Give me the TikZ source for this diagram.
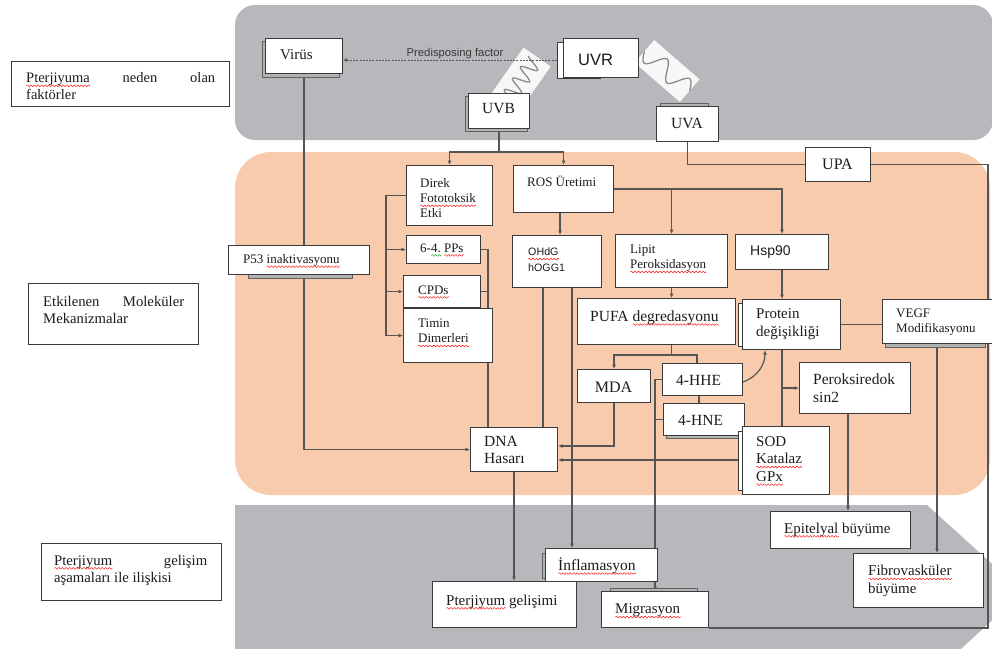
\documentclass[tikz,border=0pt]{standalone}
\usepackage{fontspec}
\setmainfont{Liberation Serif}
\newfontfamily\arialf{Liberation Sans}
\usetikzlibrary{arrows.meta}
\pgfdeclarelayer{bg}\pgfdeclarelayer{lines}\pgfsetlayers{bg,lines,main}
\definecolor{gbg}{HTML}{B6B8BB}
\definecolor{obg}{HTML}{F8CBAD}
\definecolor{bdr}{HTML}{3A3A3A}
\definecolor{lnc}{HTML}{555555}
\definecolor{txc}{HTML}{1C1C1C}
\definecolor{wavc}{HTML}{8A8A8A}
\newsavebox\wbox
\makeatletter
\newcommand\wvl[2]{\sbox\wbox{#2}\edef\wdn{\strip@pt\wd\wbox}\leavevmode\rlap{\usebox\wbox}\rlap{\tikz[baseline=0pt,x=1pt,y=1pt]\draw[#1,line width=0.45pt] plot[domain=0:\wdn,samples=120] (\x,{-3.3+0.8*sin(\x*100)});}\hspace{\wd\wbox}}
\makeatother
\newcommand\rw[1]{\wvl{red}{#1}}
\newcommand\gw[1]{\wvl{green!60!black}{#1}}
\newcommand\fsz[2]{\fontsize{#1}{#2}\selectfont}
\newcommand\mkbox[6][]{\node[box,#1,anchor=north west,minimum width={(#5)-(#3)},minimum height={(#6)-(#4)}] (#2) at (#3,#4) {};}
\tikzset{
  box/.style={draw=bdr, line width=1.1pt, fill=white, inner sep=0pt, rectangle},
  txt/.style={inner sep=0pt, align=left, text=txc},
  ln/.style={draw=lnc, line width=1.2pt},
  ar/.style={ln, -{Latex[length=4.5pt,width=4pt]}},
  shd/.style={fill=gray!60, draw=bdr!80, line width=0.6pt},
  shw/.style={fill=white, draw=bdr, line width=0.9pt},
  wv/.style={draw=wavc, line width=1.3pt}
}
\begin{document}
\begin{tikzpicture}[x=1pt,y=-1pt]
\useasboundingbox (0,0) rectangle (992,648);
\begin{pgfonlayer}{bg}
  \fill[white] (0,0) rectangle (992,648);
  \fill[gbg, rounded corners=20pt] (235,5) rectangle (993,140);
  \fill[obg, rounded corners=36pt] (235,152) rectangle (990,495);
  \fill[gbg] (235,505) -- (927,505) -- (1023,592) -- (927,680) -- (235,680) -- cycle;
\end{pgfonlayer}

% ---------- left labels
\mkbox{l1}{11}{61}{229}{106}
\node[txt, font={\fsz{14.5}{17}}, anchor=west] (l1t) at (26,86) {\makebox[189pt][s]{\rw{Pterjiyuma} neden olan}\\faktörler};
\mkbox{l2}{28}{283}{198}{344}
\node[txt, font={\fsz{14.7}{17}}, anchor=west] (l2t) at (43,310) {\makebox[141pt][s]{Etkilenen Moleküler}\\Mekanizmalar};
\mkbox{l3}{41}{543}{221}{600}
\node[txt, font={\fsz{14.7}{17}}, anchor=west] (l3t) at (54,570) {\makebox[153pt][s]{\rw{Pterjiyum} gelişim}\\aşamaları ile ilişkisi};

% ---------- top band
\path[shd] (262,41) rectangle (339,77);
\mkbox{virus}{265}{38}{342}{73}
\node[txt, font={\fsz{15}{17}}, anchor=west] (virust) at (280,55) {Virüs};
\path[shw] (557,42) rectangle (600,78);
\mkbox{uvr}{563}{38}{638}{77}
\node[txt, font={\arialf\fsz{16.5}{18}}, anchor=west] (uvrt) at (578,60) {UVR};
\node[txt, font={\arialf\fsz{11.3}{13}}, text=gray!45!black] (pf) at (455,54) {Predisposing factor};
\path[shd] (465,96) rectangle (527,131);
\mkbox{uvb}{468}{93}{529}{128}
\node[txt, font={\fsz{15.5}{17}}] (uvbt) at (498.5,109) {UVB};
\path[shd] (660,103) rectangle (708,107);
\mkbox{uva}{656}{106}{718}{141}
\node[txt, font={\fsz{15.5}{17}}] (uvat) at (687,123) {UVA};
\mkbox{upa}{805}{147}{870}{181}
\node[txt, font={\fsz{16}{18}}] (upat) at (837.5,164) {UPA};

% ---------- middle band
\mkbox{direk}{406}{165}{492}{225}
\node[txt, font={\fsz{13}{15}}, anchor=west] (direkt) at (420,198) {Direk\\\rw{Fototoksik}\\Etki};
\mkbox{pps}{406}{235}{480}{263}
\node[txt, font={\fsz{13}{15}}, anchor=west] (ppst) at (420,250) {6-\gw{4.}\ \rw{PPs}};
\mkbox{cpd}{403}{275}{480}{307}
\node[txt, font={\fsz{13}{15}}, anchor=west] (cpdt) at (418,292) {\rw{CPDs}};
\mkbox{timin}{403}{308}{492}{362}
\node[txt, font={\fsz{13}{15}}, anchor=west] (timint) at (418,333) {Timin\\\rw{Dimerleri}};
\path[shd] (248,250) rectangle (352,278);
\mkbox{p53}{228}{245}{369}{274}
\node[txt, font={\fsz{13}{15}}, anchor=west] (p53t) at (243,261) {P53 \rw{inaktivasyonu}};
\mkbox{ros}{513}{165}{613}{212}
\node[txt, font={\fsz{13}{15}}, anchor=west] (rost) at (527,181) {ROS Üretimi};
\mkbox{ohdg}{512}{235}{601}{287}
\node[txt, font={\arialf\fsz{10.7}{16}}, anchor=west] (ohdgt) at (528,260) {\rw{OHdG}\\hOGG1};
\mkbox{lipit}{615}{234}{727}{287}
\node[txt, font={\fsz{13}{15}}, anchor=west] (lipitt) at (630,259) {Lipit\\\rw{Peroksidasyon}};
\mkbox{hsp}{735}{234}{828}{269}
\node[txt, font={\arialf\fsz{14}{16}}, anchor=west] (hspt) at (750,252) {Hsp90};
\mkbox{pufa}{577}{298}{735}{344}
\node[txt, font={\fsz{15.5}{17}}, anchor=west] (pufat) at (590,318) {PUFA \rw{degredasyonu}};
\path[shw] (738,303) rectangle (746,346);
\mkbox{protein}{742}{299}{840}{349}
\node[txt, font={\fsz{15}{18}}, anchor=west] (proteint) at (756,324) {Protein\\değişikliği};
\path[shd] (885,302) rectangle (985,347);
\mkbox{vegf}{882}{299}{993}{343}
\node[txt, font={\fsz{13}{15}}, anchor=west] (vegft) at (896,322) {VEGF\\Modifikasyonu};
\mkbox{mda}{577}{369}{650}{402}
\node[txt, font={\fsz{16}{18}}] (mdat) at (613.5,387) {MDA};
\mkbox{hhe}{662}{363}{742}{395}
\node[txt, font={\fsz{15.5}{17}}, anchor=west] (hhet) at (676,380) {4-HHE};
\path[shd] (666,406) rectangle (738,438);
\mkbox{hne}{663}{403}{744}{435}
\node[txt, font={\fsz{15.5}{17}}, anchor=west] (hnet) at (678,420) {4-HNE};
\mkbox{perok}{799}{362}{910}{413}
\node[txt, font={\fsz{15.5}{18}}, anchor=west] (perokt) at (813,388) {Peroksiredok\\sin2};
\path[shw] (738,431) rectangle (746,490);
\mkbox{sod}{742}{426}{829}{494}
\node[txt, font={\fsz{15}{17.5}}, anchor=west] (sodt) at (756,461) {SOD\\\rw{Katalaz}\\\rw{GPx}};
\mkbox{dna}{470}{427}{557}{471}
\node[txt, font={\fsz{15.5}{17}}, anchor=west] (dnat) at (484,450) {DNA\\Hasarı};

% ---------- bottom band
\mkbox{epi}{770}{511}{910}{548}
\node[txt, font={\fsz{15}{17}}, anchor=west] (epit) at (784,530) {\rw{Epitelyal} büyüme};
\mkbox{fibro}{853}{553}{983}{607}
\node[txt, font={\fsz{15}{18}}, anchor=west] (fibrot) at (868,581) {\rw{Fibrovasküler}\\büyüme};
\path[shd] (542,553) rectangle (548,578);
\mkbox{infl}{545}{548}{657}{581}
\node[txt, font={\fsz{15.5}{17}}, anchor=west] (inflt) at (558,566) {\rw{İnflamasyon}};
\mkbox{pter}{432}{581}{576}{627}
\node[txt, font={\fsz{15}{17}}, anchor=west] (ptert) at (446,602) {\rw{Pterjiyum} gelişimi};
\path[shd] (610,588) rectangle (697,593);
\mkbox{migr}{601}{591}{708}{627}
\node[txt, font={\fsz{15}{17}}, anchor=west] (migrt) at (615,611) {\rw{Migrasyon}};

% ---------- connectors
\begin{pgfonlayer}{lines}
  \begin{scope}[shift={(521,80)}, rotate=55]
    \fill[white!94!gray] (-28,-16.5) rectangle (28,16.5);
    \draw[wv] plot[domain=-24:24, samples=90, smooth] (\x,{8*sin(\x*360/14)});
  \end{scope}
  \begin{scope}[shift={(667,71)}, rotate=-41]
    \fill[white!94!gray] (-30,-15) rectangle (30,15);
    \draw[wv] plot[domain=-30:30, samples=90, smooth] (\x,{9*sin(\x*360/30)});
  \end{scope}
  \draw[ln, line width=1pt, dash pattern=on 2pt off 1.2pt, {Latex[length=4pt,width=4pt]}-{Latex[length=4pt,width=4pt]}] (virus.east |- 0,60) -- (uvr.west |- 0,60);
  \draw[ln] (uvb.south) -- (uvb.south |- 0,152);
  \draw[ar] (uvb.south |- 0,152) -| (direk.north);
  \draw[ar] (uvb.south |- 0,152) -| (ros.north);
  \draw[ar] (virus.south) |- (dna.west);
  \coordinate (bx) at (386,0);
  \draw[ln] (direk.west) -| (bx |- timin.west);
  \draw[ar] (bx |- pps.west) -- (pps.west);
  \draw[ar] (bx |- cpd.west) -- (cpd.west);
  \draw[ar] (bx |- timin.west) -- (timin.west);
  \coordinate (rx) at (488,0);
  \draw[ln] (pps.east) -- (rx |- pps.east) -- (rx |- dna.north);
  \draw[ln] (cpd.east) -- (rx |- cpd.east);
  \draw[ar] (ros.south -| 560,0) -- (ohdg.north -| 560,0);
  \draw[ar] (ros.east) -| (hsp.north);
  \draw[ar] (lipit.north |- ros.east) -- (lipit.north);
  \draw[ar] (lipit.south) -- (lipit.south |- pufa.north);
  \draw[ar] (hsp.south) -- (hsp.south |- protein.north);
  \draw[ln] (protein.east) -- (protein.east -| vegf.west);
  \draw[ln] (protein.south -| hsp.south) -- (sod.north -| hsp.south);
  \draw[ar] (hsp.south |- perok.west) -- (perok.west);
  \draw[ar] (perok.south -| 848,0) -- (epi.north -| 848,0);
  \draw[ar] (vegf.south -| 937,0) -- (fibro.north -| 937,0);
  \draw[ln] (upa.east) -| (988,628) -- (migr.south east |- 0,628);
  \draw[ln] (uva.south) |- (upa.west);
  \draw[ln] (pufa.south -| lipit.south) -- (lipit.south |- 0,355);
  \draw[ar] (hhe.north -| 697,0) |- (mda.north |- 0,355) -- (mda.north);
  \draw[ln] (hhe.south -| 699,0) -- (hne.north -| 699,0);
  \draw[ar] (hhe.east |- 0,382) .. controls (757,377) and (765,365) .. (protein.south -| 765,0);
  \coordinate (mx) at (655,0);
  \draw[ar] (hhe.west) -| (mx |- migr.north);
  \draw[ln] (hne.west) -- (mx |- hne.west);
  \draw[ar] (mda.south) |- (dna.east |- 0,446);
  \draw[ar] (sod.west |- 0,460) -- (dna.east |- 0,460);
  \draw[ln] (ohdg.south -| 543,0) -- (dna.north -| 543,0);
  \draw[ar] (ohdg.south -| 572,0) -- (infl.north -| 572,0);
  \draw[ar] (dna.south -| 514,0) -- (pter.north -| 514,0);
\end{pgfonlayer}
\end{tikzpicture}
\end{document}
